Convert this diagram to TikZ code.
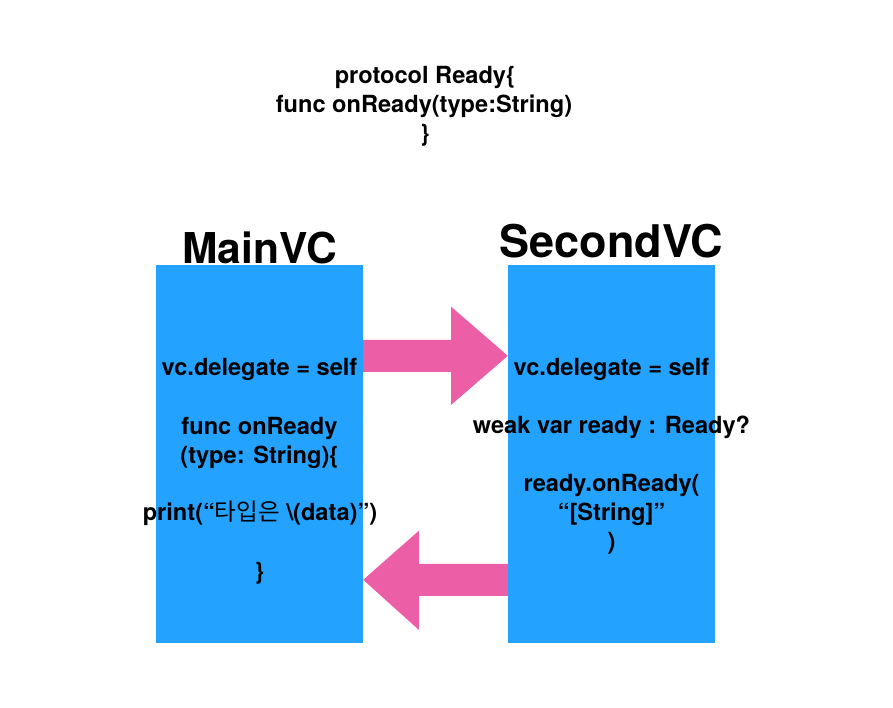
\documentclass[tikz,border=0pt]{standalone}
\usepackage{fontspec}
\setmainfont{TeX Gyre Heros}
\newfontfamily\krfont{Noto Sans CJK KR}
\usetikzlibrary{calc}
\definecolor{boxblue}{RGB}{35,163,255}
\definecolor{arrowpink}{RGB}{236,94,166}
\tikzset{
  vcbox/.style={fill=boxblue, draw=none, minimum width=207pt, minimum height=378pt, inner sep=0pt},
  code/.style={font=\fontsize{23.6}{29}\selectfont\bfseries, anchor=base, inner sep=0pt},
  title/.style={font=\fontsize{42.5}{50}\selectfont\bfseries, anchor=base, inner sep=0pt},
  bigarrow/.style={fill=arrowpink, draw=none}
}
\begin{document}
\begin{tikzpicture}[x=1pt,y=-1pt]
\useasboundingbox (0,0) rectangle (893,707);
\fill[white] (0,0) rectangle (893,707);
% boxes
\node[vcbox] (main) at (259.5,454) {};
\node[vcbox] (second) at (611.5,454) {};
% arrows
\fill[bigarrow] ($(main.north east)+(0,75)$) -- ++(88,0) -- ++(0,-33) -- ($(second.north west)+(0,91)$)
  -- ($(main.north east)+(88,140)$) -- ++(0,-33) -- ($(main.north east)+(0,107)$) -- cycle;
\fill[bigarrow] ($(second.north west)+(0,299)$) -- ++(-89,0) -- ++(0,-33) -- ($(main.north east)+(0,315)$)
  -- ($(second.north west)+(-89,365)$) -- ++(0,-34) -- ($(second.north west)+(0,331)$) -- cycle;
% protocol
\node[code] (p1) at (425,83) {protocol Ready\{};
\node[code] (p2) at (424,112) {func onReady(type:String)};
\node[code] (p3) at (425,141) {\}};
% titles
\node[title] (t1) at (259.5,263) {MainVC};
\node[title, font=\fontsize{45}{52}\selectfont\bfseries] (t2) at (611.5,257) {SecondVC};
% left texts
\node[code] (l1) at (259.5,375) {vc.delegate = self};
\node[code] (l2) at (259.5,434) {func onReady};
\node[code] (l3) at (259.5,463) {(type: String)\{};
\node[code] (l4) at (260,520) {print(“{\krfont\mdseries 타입은} \textbackslash(data)”)};
\node[code] (l5) at (259.5,579) {\}};
% right texts
\node[code] (r1) at (611.5,375) {vc.delegate = self};
\node[code] (r2) at (611.5,433) {weak var ready : Ready?};
\node[code] (r3) at (611.5,491) {ready.onReady(};
\node[code] (r4) at (611.5,520) {“[String]”};
\node[code] (r5) at (611.5,549) {)};
\end{tikzpicture}
\end{document}
